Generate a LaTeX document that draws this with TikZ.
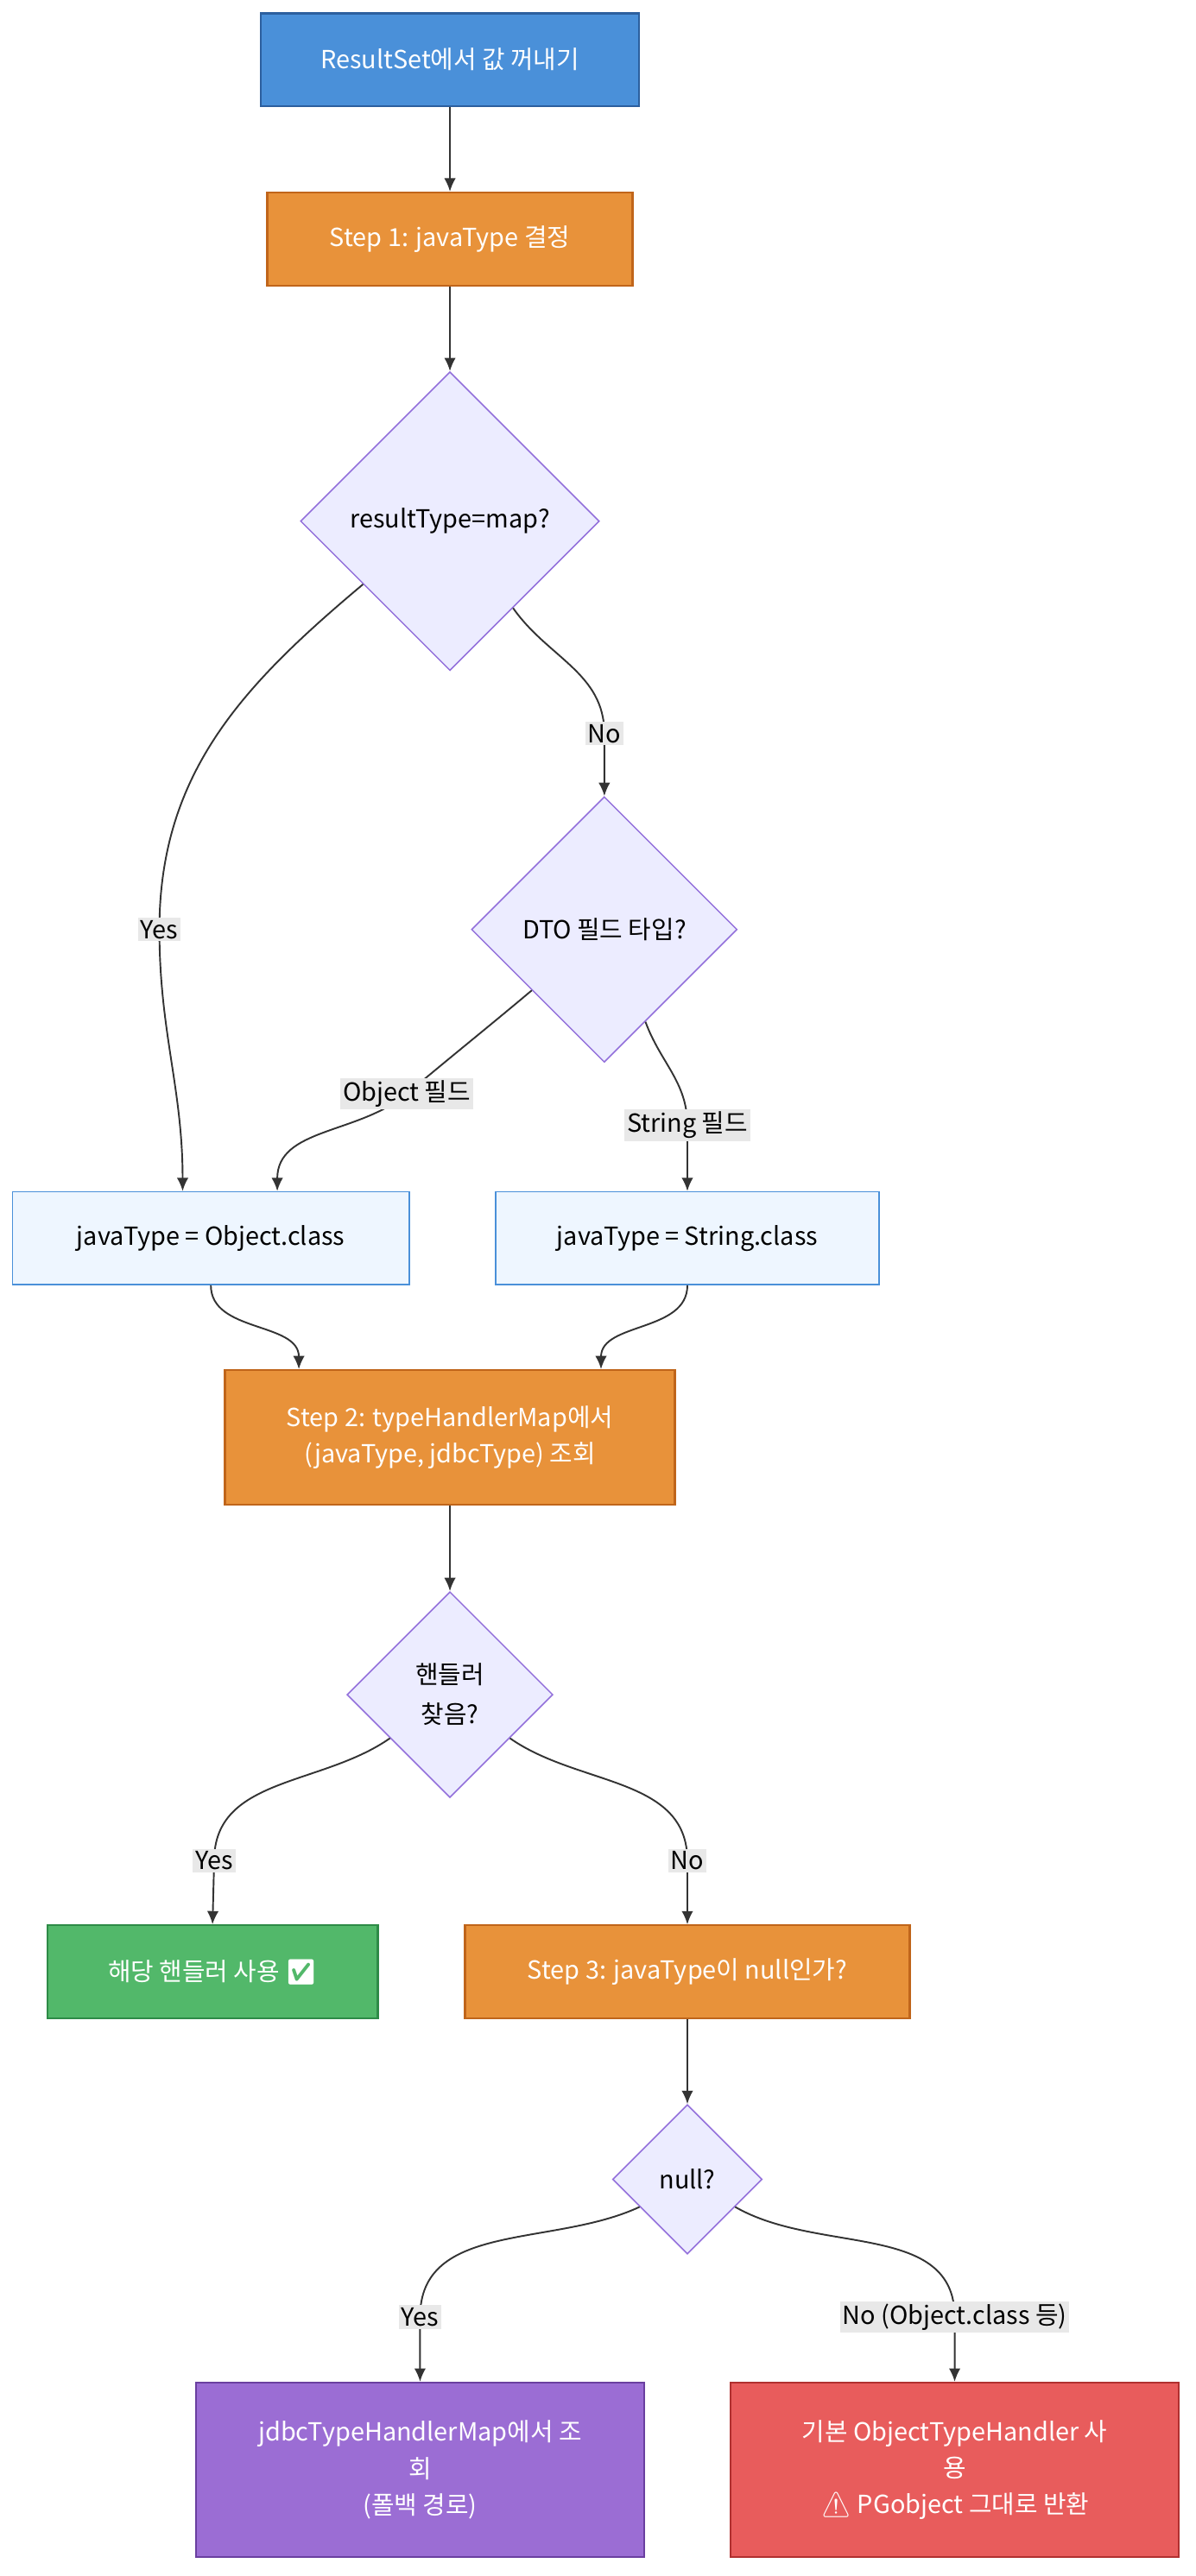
\documentclass[tikz,border=0pt]{standalone}
\usepackage{fontspec}
\setmainfont{Noto Sans CJK KR}
\newfontfamily\emo{Noto Emoji}
\usetikzlibrary{shapes.geometric,arrows.meta}
\definecolor{dfill}{HTML}{ECECFF}
\definecolor{dline}{HTML}{9370DB}
\tikzset{
 x=1pt,y=1pt,
 box/.style={draw,line width=1.2pt,minimum height=56,align=center,text=white,font=\fontsize{15}{22}\selectfont},
 blue/.style={box,fill={rgb,255:red,74;green,144;blue,217},draw={rgb,255:red,44;green,95;blue,158}},
 orange/.style={box,fill={rgb,255:red,232;green,146;blue,58},draw={rgb,255:red,192;green,101;blue,26}},
 light/.style={box,text=black,line width=0.8pt,fill={rgb,255:red,238;green,246;blue,255},draw={rgb,255:red,74;green,144;blue,217}},
 green/.style={box,fill={rgb,255:red,82;green,184;blue,106},draw={rgb,255:red,46;green,139;blue,71}},
 purple/.style={box,fill={rgb,255:red,155;green,109;blue,212},draw={rgb,255:red,106;green,63;blue,160}},
 red/.style={box,fill={rgb,255:red,232;green,92;blue,92},draw={rgb,255:red,176;green,48;blue,48}},
 dia/.style={diamond,draw=dline,fill=dfill,line width=0.8pt,inner sep=0,align=center,font=\fontsize{15}{24}\selectfont},
 lab/.style={fill={rgb,255:red,232;green,232;blue,232},inner sep=1.5pt,font=\fontsize{15}{18}\selectfont},
 arr/.style={draw={rgb,255:red,51;green,51;blue,51},line width=1pt,-{Latex[length=8pt,width=7pt]}},
}
\begin{document}
\begin{tikzpicture}
\useasboundingbox (0,0) rectangle (720,-1552);
\node[blue,minimum width=228] (start) at (271,-36) {ResultSet에서 값 꺼내기};
\node[orange,minimum width=220] (s1) at (271,-144) {Step 1: javaType 결정};
\node[dia,minimum width=180,minimum height=180] (d1) at (271,-314) {resultType=map?};
\node[dia,minimum width=160,minimum height=160] (d2) at (364,-560) {DTO 필드 타입?};
\node[light,minimum width=239] (obj) at (127,-746) {javaType = Object.class};
\node[light,minimum width=231] (str) at (414,-746) {javaType = String.class};
\node[orange,minimum width=271,minimum height=81] (s2) at (271,-866) {Step 2: typeHandlerMap에서\\(javaType, jdbcType) 조회};
\node[dia,minimum width=124,minimum height=124] (d3) at (271,-1021) {핸들러\\찾음?};
\node[green,minimum width=199] (hu) at (128,-1188) {해당 핸들러 사용 {\emo ✅}};
\node[orange,minimum width=268] (s3) at (414,-1188) {Step 3: javaType이 null인가?};
\node[dia,minimum width=90,minimum height=90] (d4) at (414,-1313) {null?};
\node[purple,minimum width=270,minimum height=105] (jd) at (253,-1488) {jdbcTypeHandlerMap에서 조\\회\\(폴백 경로)};
\node[red,minimum width=270,minimum height=105] (bs) at (575,-1488) {기본 ObjectTypeHandler 사\\용\\{\emo ⚠} PGobject 그대로 반환};

\coordinate (lno1) at (364,-442);
\coordinate (lyes1) at (96,-560);
\coordinate (lobj) at (245,-659);
\coordinate (lstr) at (414,-678);
\coordinate (lyes2) at (129,-1121);
\coordinate (lno2) at (414,-1121);
\coordinate (lyes3) at (253,-1396);
\coordinate (lno3) at (575,-1396);

\draw[arr] (start) -- (s1);
\draw[arr] (s1) -- (d1);
\draw[arr] (d1.-54) to[out=-55,in=90] (lno1) -- (d2.north);
\draw[arr] (d1.216) to[out=220,in=90] (lyes1) to[out=-90,in=90] ([xshift=-17]obj.north);
\draw[arr] (d2.220) to[out=220,in=40] (lobj) to[out=220,in=90] ([xshift=40]obj.north);
\draw[arr] (d2.-66) to[out=-70,in=90] (lstr) -- (str.north);
\draw[arr] (obj.south) to[out=-90,in=90] ([xshift=-91]s2.north);
\draw[arr] (str.south) to[out=-90,in=90] ([xshift=91]s2.north);
\draw[arr] (s2) -- (d3);
\draw[arr] (d3.216) to[out=215,in=90] (lyes2) -- (hu.north);
\draw[arr] (d3.-36) to[out=-35,in=90] (lno2) -- (s3.north);
\draw[arr] (s3) -- (d4);
\draw[arr] (d4.210) to[out=205,in=90] (lyes3) -- (jd.north);
\draw[arr] (d4.-30) to[out=-30,in=90] (lno3) -- (bs.north);

\node[lab] at (lno1) {No};
\node[lab] at (lyes1) {Yes};
\node[lab] at (lobj) {Object 필드};
\node[lab] at (lstr) {String 필드};
\node[lab] at (lyes2) {Yes};
\node[lab] at (lno2) {No};
\node[lab] at (lyes3) {Yes};
\node[lab] at (lno3) {No (Object.class 등)};
\end{tikzpicture}
\end{document}
